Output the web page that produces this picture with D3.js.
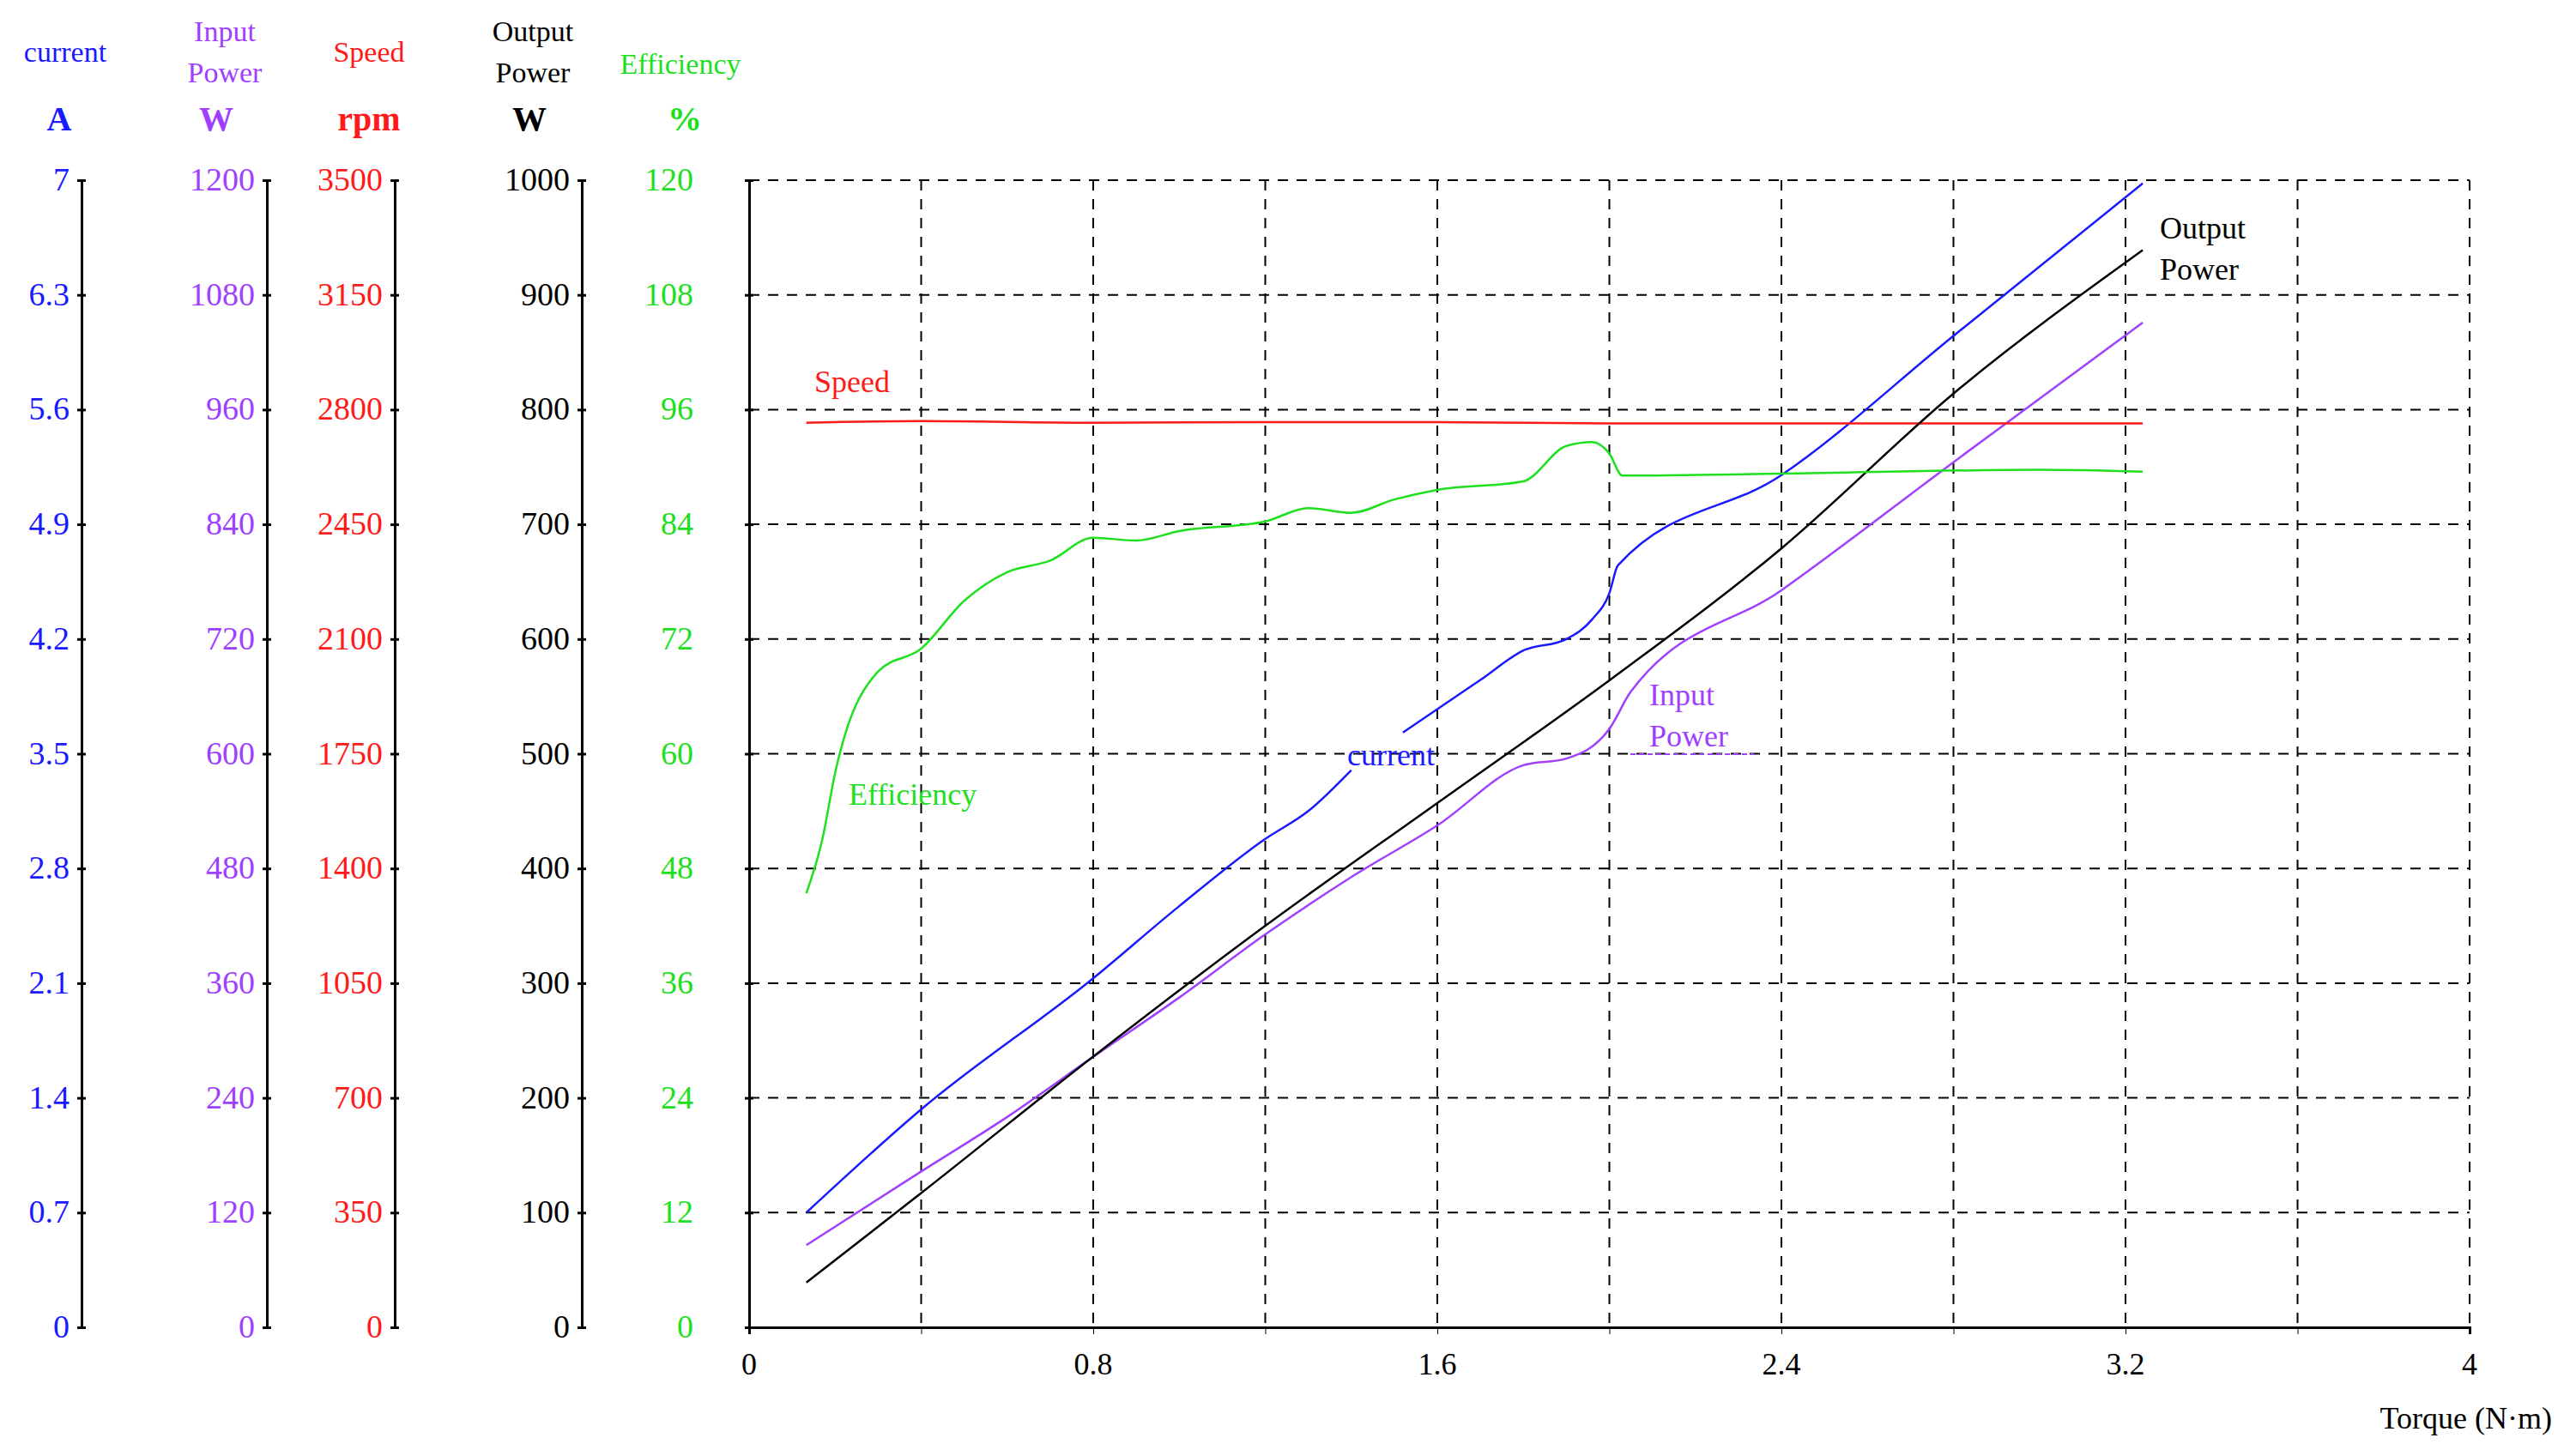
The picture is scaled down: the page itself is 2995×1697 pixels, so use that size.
<!DOCTYPE html>
<html><head><meta charset="utf-8">
<script src="https://cdn.jsdelivr.net/npm/d3@7"></script>
<style>body{margin:0;background:#fff}text{font-family:"Liberation Serif","Times New Roman",serif}</style>
</head><body><svg id="chart" width="2995" height="1697"></svg>
<script>
// torque (N·m) / value pairs
var currentA = [[0.133,0.7],[0.4,1.33],[0.8,2.13],[1.0,2.57],[1.2,2.98],[1.3,3.15],[1.4,3.4]];
var currentB = [[1.52,3.63],[1.7,3.95],[1.8,4.13],[1.9,4.2],[1.96,4.32],[2.0,4.48],[2.02,4.65],[2.4,5.2],[2.8,6.05],[3.24,6.98]];
var inputPower = [[0.133,86],[0.4,163],[0.6,220],[0.8,283],[1.0,345],[1.2,411],[1.4,471],[1.6,525],[1.8,588],[1.9,595],[2.0,626],[2.05,665],[2.4,771],[2.8,905],[3.24,1051]];
var outputPower = [[0.133,39],[0.4,117],[0.8,236],[1.2,350],[1.6,457],[2.0,564],[2.4,679],[2.8,814],[3.24,939]];
var speed = [[0.133,2760],[0.4,2765],[0.8,2760],[1.2,2762],[1.6,2762],[2.0,2758],[2.4,2758],[2.8,2758],[3.24,2758]];
var efficiency = [[0.133,45.4],[0.17,51],[0.2,58],[0.3,68.6],[0.4,71],[0.5,76],[0.6,79],[0.7,80.2],[0.8,82.6],[0.9,82.3],[1.0,83.3],[1.2,84.3],[1.3,85.7],[1.4,85.2],[1.5,86.6],[1.6,87.6],[1.8,88.5],[1.9,92.2],[1.96,92.6],[2.0,91.4],[2.03,89.1],[2.4,89.3],[3.0,89.7],[3.24,89.5]];
var torqueTicks = [0,0.8,1.6,2.4,3.2,4];

var axesInfo = [
  {name:['current'], unit:'A', max:7, step:0.7, color:'#1a1aff', x:95, hx:76, ux:69, fmt:function(d){return d3.format('.1~f')(d);}},
  {name:['Input','Power'], unit:'W', max:1200, step:120, color:'#a040ff', x:311, hx:262, ux:252},
  {name:['Speed'], unit:'rpm', max:3500, step:350, color:'#ff1a1a', x:460, hx:430, ux:430},
  {name:['Output','Power'], unit:'W', max:1000, step:100, color:'#000', x:678, hx:621, ux:617},
  {name:['Efficiency'], unit:'%', max:120, step:12, color:'#1ee01e', x:873, hx:793, ux:798}
];

var svg = d3.select('#chart');
var pLeft = 873, pRight = 2878, pTop = 210, pBottom = 1547;
var x = d3.scaleLinear().domain([0,4]).range([pLeft,pRight]);
var frac = d3.scaleLinear().domain([0,1]).range([pBottom,pTop]);

// grid
var g = svg.append('g');
d3.range(1,11).forEach(function(i){
  g.append('line').attr('x1',x(i*0.4)).attr('x2',x(i*0.4)).attr('y1',pTop).attr('y2',pBottom)
    .attr('stroke','#000').attr('stroke-width',2).attr('stroke-dasharray','12,10');
  g.append('line').attr('x1',pLeft).attr('x2',pRight).attr('y1',frac(i/10)).attr('y2',frac(i/10))
    .attr('stroke','#000').attr('stroke-width',2).attr('stroke-dasharray','12,10');
});
svg.append('g').attr('transform','translate(0,'+pBottom+')')
  .call(d3.axisBottom(x).tickValues(d3.range(0,4.01,0.4)).tickSize(8).tickFormat(''))
  .call(function(a){a.select('.domain').attr('stroke-width',3);});
torqueTicks.forEach(function(t){
  svg.append('text').attr('x',x(t)).attr('y',1602).attr('text-anchor','middle').attr('font-size',36).text(t);
});
svg.append('text').attr('x',2974).attr('y',1665).attr('text-anchor','end').attr('font-size',36).text('Torque (N·m)');

// value axes
axesInfo.forEach(function(a){
  a.scale = d3.scaleLinear().domain([0,a.max]).range([pBottom,pTop]);
  var ax = svg.append('g').attr('transform','translate('+a.x+',0)')
    .call(d3.axisLeft(a.scale).tickValues(d3.range(0,11).map(function(i){return i*a.step;})).tickSizeInner(-8).tickSizeOuter(0).tickFormat(''));
  ax.select('.domain').attr('stroke','#000').attr('stroke-width',3);
  ax.selectAll('.tick line').attr('stroke-width',3).attr('x1',-5).attr('x2',5);
  var lx = a.x === pLeft ? 808 : a.x - 14;
  d3.range(0,11).forEach(function(i){
    var v = i*a.step;
    svg.append('text').attr('x',lx).attr('y',a.scale(v)+12).attr('text-anchor','end')
      .attr('font-size',38).attr('fill',a.color).text(a.fmt ? a.fmt(v) : Math.round(v));
  });
  if (a.name.length === 2) {
    svg.append('text').attr('x',a.hx).attr('y',48).attr('text-anchor','middle').attr('font-size',34).attr('fill',a.color).text(a.name[0]);
    svg.append('text').attr('x',a.hx).attr('y',96).attr('text-anchor','middle').attr('font-size',34).attr('fill',a.color).text(a.name[1]);
  } else {
    svg.append('text').attr('x',a.hx).attr('y',a.x===pLeft?86:72).attr('text-anchor','middle').attr('font-size',34).attr('fill',a.color).text(a.name[0]);
  }
  svg.append('text').attr('x',a.ux).attr('y',152).attr('text-anchor','middle').attr('font-size',40)
    .attr('font-weight','bold').attr('fill',a.color).text(a.unit);
});

var line = function(sc){ return d3.line().x(function(d){return x(d[0]);}).y(function(d){return sc(d[1]);}).curve(d3.curveMonotoneX); };
function draw(data, a){
  svg.append('path').datum(data).attr('d',line(a.scale)).attr('fill','none').attr('stroke',a.color).attr('stroke-width',2.5);
}
draw(currentA, axesInfo[0]); draw(currentB, axesInfo[0]);
draw(inputPower, axesInfo[1]); draw(speed, axesInfo[2]);
draw(outputPower, axesInfo[3]); draw(efficiency, axesInfo[4]);

// in-plot labels
function lab(t, px, py, c){ svg.append('text').attr('x',px).attr('y',py).attr('font-size',36).attr('fill',c).text(t); }
lab('Speed',949,457,'#ff1a1a');
lab('Efficiency',989,938,'#1ee01e');
lab('current',1570,892,'#1a1aff');
lab('Input',1922,822,'#a040ff'); lab('Power',1922,870,'#a040ff');
svg.append('line').attr('x1',1900).attr('x2',2044).attr('y1',879).attr('y2',879).attr('stroke','#a040ff').attr('stroke-width',2).attr('stroke-dasharray','6,4');
lab('Output',2517,278,'#000'); lab('Power',2517,326,'#000');
</script></body></html>
